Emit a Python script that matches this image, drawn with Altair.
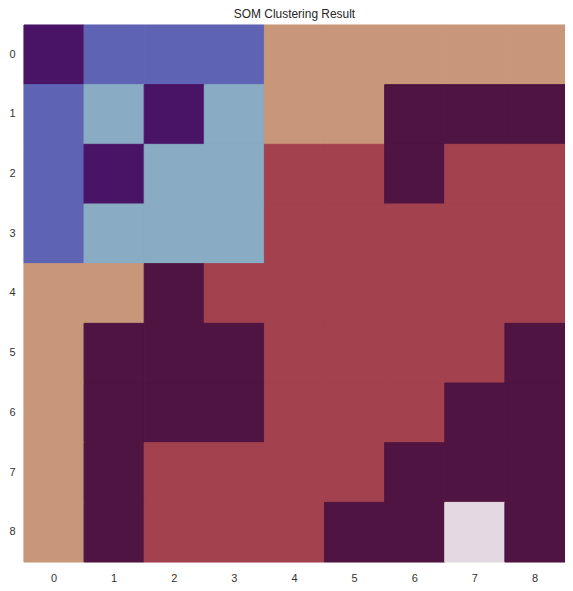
import altair as alt
import pandas as pd

# cluster id per cell, rows 0..8 (top to bottom), columns 0..8
row0 = [3, 2, 2, 2, 6, 6, 6, 6, 6]
row1 = [2, 1, 3, 1, 6, 6, 4, 4, 4]
row2 = [2, 3, 1, 1, 5, 5, 4, 5, 5]
row3 = [2, 1, 1, 1, 5, 5, 5, 5, 5]
row4 = [6, 6, 4, 5, 5, 5, 5, 5, 5]
row5 = [6, 4, 4, 4, 5, 5, 5, 5, 4]
row6 = [6, 4, 4, 4, 5, 5, 5, 4, 4]
row7 = [6, 4, 5, 5, 5, 5, 4, 4, 4]
row8 = [6, 4, 5, 5, 5, 4, 4, 0, 4]
grid = [row0, row1, row2, row3, row4, row5, row6, row7, row8]

cluster_ids = [0, 1, 2, 3, 4, 5, 6]
cluster_colors = ["#e2d9e2", "#89abc3", "#5f63b4", "#4a1466", "#4f1441", "#a3414e", "#c8977a"]

records = []
for r, row in enumerate(grid):
    for c, v in enumerate(row):
        records.append({"row": r, "col": c, "cluster": v})
df = pd.DataFrame(records)

cscale = alt.Scale(domain=cluster_ids, range=cluster_colors)

chart = alt.Chart(df).mark_rect(strokeWidth=1).encode(
    x=alt.X("col:O", title=None,
            scale=alt.Scale(paddingInner=0, paddingOuter=0),
            axis=alt.Axis(labelAngle=0, domain=False, ticks=False, labelPadding=11,
                          labelFontSize=11, labelColor="#333333", labelFont="Liberation Sans")),
    y=alt.Y("row:O", title=None,
            scale=alt.Scale(paddingInner=0, paddingOuter=0),
            axis=alt.Axis(domain=False, ticks=False, labelPadding=9,
                          labelFontSize=11, labelColor="#333333", labelFont="Liberation Sans")),
    color=alt.Color("cluster:O", legend=None, scale=cscale),
    stroke=alt.Stroke("cluster:O", legend=None, scale=cscale),
).properties(
    width=543, height=539,
    title=alt.TitleParams("SOM Clustering Result", fontSize=12, fontWeight="normal",
                          font="Liberation Sans", color="#262626", offset=3),
    autosize=alt.AutoSizeParams(type="none"),
    padding={"left": 16, "top": 16, "right": 0, "bottom": 20},
).configure_view(stroke=None).configure_axis(grid=False)

chart.save("out.html", embed_options={"renderer": "svg", "actions": False})
